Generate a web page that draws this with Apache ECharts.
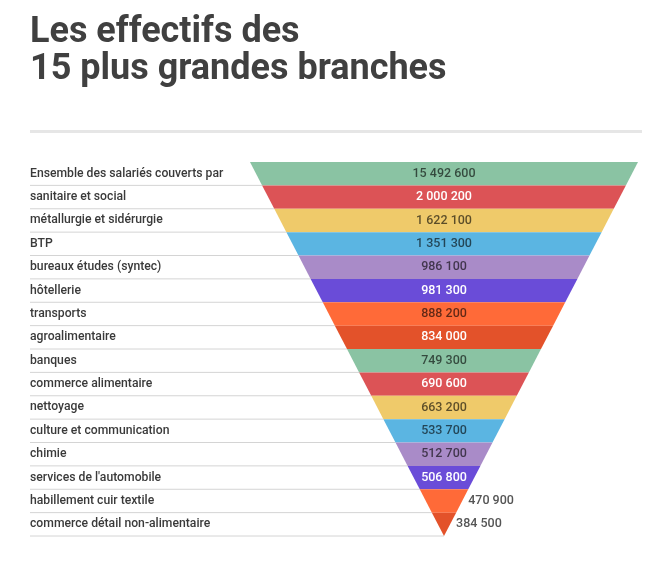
<!DOCTYPE html>
<html>
<head>
<meta charset="utf-8">
<script src="https://cdn.jsdelivr.net/npm/echarts@6/dist/echarts.min.js"></script>
<style>
  html, body { margin: 0; padding: 0; background: #ffffff; }
  #chart { width: 650px; height: 562px; }
</style>
</head>
<body>
<div id="chart"></div>
<script>
const titleText = "Les effectifs des\n15 plus grandes branches";

const categories = [
  "Ensemble des salariés couverts par",
  "sanitaire et social",
  "métallurgie et sidérurgie",
  "BTP",
  "bureaux études (syntec)",
  "hôtellerie",
  "transports",
  "agroalimentaire",
  "banques",
  "commerce alimentaire",
  "nettoyage",
  "culture et communication",
  "chimie",
  "services de l'automobile",
  "habillement cuir textile",
  "commerce détail non-alimentaire"
];

const values = [
  15492600, 2000200, 1622100, 1351300, 986100, 981300, 888200, 834000,
  749300, 690600, 663200, 533700, 512700, 506800, 470900, 384500
];

const palette = ["#8AC3A3", "#DC5356", "#EFCA6A", "#5BB5E2", "#A98BC8", "#6A4CD8", "#FF6A38", "#E3522A"];
const lightText = [false, true, false, false, false, true, false, true];

function fmt(v) {
  return String(v).replace(/\B(?=(\d{3})+(?!\d))/g, " ");
}

const N = categories.length;
const chart = echarts.init(document.getElementById("chart"), null, { renderer: "canvas" });

function renderItem(params, api) {
  const i = api.value(1);
  const v = api.value(0);
  const cs = params.coordSys;
  const center = api.coord([0, i]);
  const h = api.size([0, 1])[1];
  const yc = center[1];
  const top = yc - h / 2;
  const bottom = yc + h / 2;
  const ht = (N - i) / N;
  const hb = (N - i - 1) / N;
  const hm = (ht + hb) / 2;
  const xlt = api.coord([-ht, i])[0];
  const xrt = api.coord([ht, i])[0];
  const xlb = api.coord([-hb, i])[0];
  const xrb = api.coord([hb, i])[0];
  const xrm = api.coord([hm, i])[0];
  const xlm = api.coord([-hm, i])[0];
  const color = palette[i % palette.length];
  const light = lightText[i % lightText.length];
  const text = fmt(v);
  const midWidth = xrm - xlm;
  const inside = midWidth > 50;
  const children = [
    {
      type: "line",
      shape: { x1: cs.x, y1: bottom, x2: xlb, y2: bottom },
      style: { stroke: "#d4d4d4", lineWidth: 1 },
      silent: true
    },
    {
      type: "polygon",
      shape: { points: [[xlt, top], [xrt, top], [xrb, bottom], [xlb, bottom]] },
      style: { fill: color }
    },
    {
      type: "text",
      x: inside ? center[0] : xrm + 6,
      y: yc,
      style: {
        text: text,
        align: inside ? "center" : "left",
        verticalAlign: "middle",
        font: "500 12.5px Roboto",
        fill: inside ? (light ? "#ffffff" : "rgba(0,0,0,0.62)") : "#555555"
      }
    }
  ];
  return { type: "group", children: children };
}

const option = {
  backgroundColor: "#ffffff",
  animation: false,
  title: {
    text: titleText,
    left: 30,
    top: 14,
    padding: 0,
    textStyle: {
      fontFamily: "Roboto",
      fontWeight: "bold",
      fontSize: 36,
      lineHeight: 37,
      color: "#404040"
    }
  },
  graphic: [
    {
      type: "rect",
      shape: { x: 30, y: 130, width: 612, height: 3 },
      style: { fill: "#e6e6e6" },
      silent: true
    }
  ],
  grid: { left: 30, right: 12, top: 162, height: 374 },
  xAxis: { type: "value", min: -2.134, max: 1, show: false },
  yAxis: {
    type: "category",
    inverse: true,
    data: categories,
    axisLine: { show: false },
    axisTick: { show: false },
    splitLine: { show: false },
    axisLabel: {
      align: "left",
      margin: 0,
      fontFamily: "Roboto",
      fontWeight: 500,
      fontSize: 12.2,
      color: "#3a3a3a"
    }
  },
  series: [
    {
      type: "custom",
      renderItem: renderItem,
      encode: { x: 0, y: 1 },
      data: values.map((v, i) => [v, i]),
      clip: false
    }
  ]
};

chart.setOption(option);
</script>
</body>
</html>
